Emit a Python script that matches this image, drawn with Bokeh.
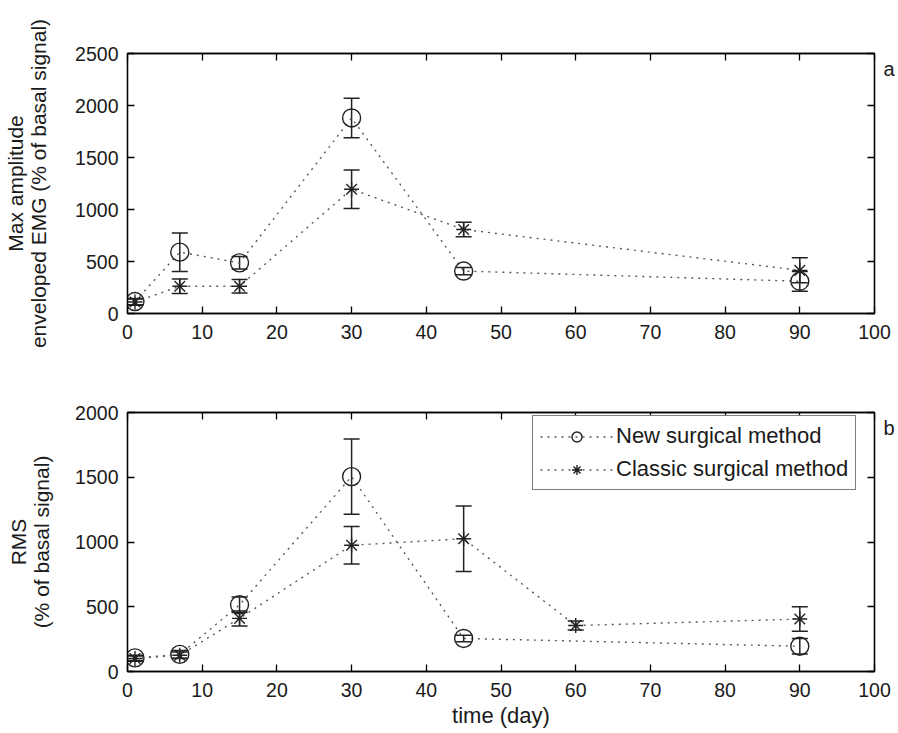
from bokeh.plotting import figure
from bokeh.models import (ColumnDataSource, Whisker, TeeHead, LinearAxis,
                          Legend, LegendItem, FixedTicker, Range1d)
from bokeh.layouts import column
from bokeh.embed import file_html
from bokeh.resources import INLINE

# ---------------- data ----------------
days_a = [1, 7, 15, 30, 45, 90]
new_a = [115, 590, 487, 1880, 408, 310]
new_a_err = [30, 185, 60, 190, 35, 95]
classic_a = [110, 262, 262, 1195, 808, 415]
classic_a_err = [30, 70, 65, 185, 70, 120]

days_b_new = [1, 7, 15, 30, 45, 90]
new_b = [105, 132, 515, 1505, 255, 195]
new_b_err = [20, 30, 60, 290, 25, 60]
days_b_classic = [1, 7, 15, 30, 45, 60, 90]
classic_b = [100, 125, 410, 975, 1025, 355, 405]
classic_b_err = [20, 25, 58, 145, 253, 35, 95]

x_ticks = [0, 10, 20, 30, 40, 50, 60, 70, 80, 90, 100]
y_ticks_a = [0, 500, 1000, 1500, 2000, 2500]
y_ticks_b = [0, 500, 1000, 1500, 2000]

label_new = "New surgical method"
label_classic = "Classic surgical method"
panel_tags = ["a", "b"]

FONT = "Liberation Sans"
TXT = "#1a1a1a"
LINE = "#5a5a5a"
MK = "#222222"
TICK_FS = "19.5px"
LABEL_FS = "21px"
LEGEND_FS = "22px"


def style_axis(ax, ticker, show_labels=True):
    ax.ticker = FixedTicker(ticks=ticker)
    ax.major_tick_in = 7
    ax.major_tick_out = 0
    ax.minor_tick_line_color = None
    ax.axis_line_color = "black"
    ax.axis_line_width = 1.3
    ax.major_tick_line_color = "black"
    ax.major_tick_line_width = 1.3
    ax.major_label_text_font = FONT
    if show_labels:
        ax.major_label_text_font_size = TICK_FS
        ax.major_label_text_color = TXT
    else:
        ax.major_label_text_font_size = "1px"
        ax.major_label_text_color = None
        ax.major_label_standoff = 0


def make_fig(height, y_max, y_ticks, top, bottom, tag, tag_y):
    p = figure(width=897, height=height, x_range=Range1d(0, 100),
               y_range=Range1d(0, y_max), output_backend="svg",
               toolbar_location=None, min_border_left=127,
               min_border_right=21, min_border_top=top,
               min_border_bottom=bottom)
    p.grid.visible = False
    p.outline_line_color = "black"
    p.outline_line_width = 1.3
    xb = p.xaxis[0]
    yl = p.yaxis[0]
    style_axis(xb, x_ticks)
    style_axis(yl, y_ticks)
    xb.major_label_standoff = 11
    yl.major_label_standoff = 9
    for ax in (xb, yl):
        ax.axis_label_text_font = FONT
        ax.axis_label_text_font_size = LABEL_FS
        ax.axis_label_text_font_style = "normal"
        ax.axis_label_text_color = TXT
        ax.axis_label_text_line_height = 1.0
    ra = LinearAxis()
    style_axis(ra, y_ticks, show_labels=False)
    p.add_layout(ra, "right")
    # panel tag ("a" / "b") written just outside the right frame edge
    tg = LinearAxis(ticker=FixedTicker(ticks=[tag_y]),
                    major_label_overrides={tag_y: tag})
    tg.axis_line_color = None
    tg.major_tick_line_color = None
    tg.minor_tick_line_color = None
    tg.major_tick_in = 0
    tg.major_tick_out = 0
    tg.major_label_standoff = 9
    tg.major_label_text_font = FONT
    tg.major_label_text_font_size = "20px"
    tg.major_label_text_color = TXT
    p.add_layout(tg, "right")
    ta = LinearAxis()
    style_axis(ta, x_ticks, show_labels=False)
    p.add_layout(ta, "above")
    return p, xb, yl


def add_series(p, xs, ys, errs, marker, size):
    src = ColumnDataSource(dict(x=xs, y=ys,
                                upper=[y + e for y, e in zip(ys, errs)],
                                lower=[y - e for y, e in zip(ys, errs)]))
    ln = p.line("x", "y", source=src, line_color=LINE, line_width=1.4,
                line_dash="2 5")
    w = Whisker(source=src, base="x", upper="upper", lower="lower",
                dimension="height", line_color=MK, line_width=1.5,
                upper_head=TeeHead(size=16, line_color=MK, line_width=1.5),
                lower_head=TeeHead(size=16, line_color=MK, line_width=1.5))
    p.add_layout(w)
    sc = p.scatter("x", "y", source=src, marker=marker, size=size,
                   fill_color=None, line_color=MK, line_width=1.4)
    return ln, sc


# ---------------- figure a ----------------
pa, xa, ya = make_fig(353, 2500, y_ticks_a, 53, 40, panel_tags[0], 2350)
ya.axis_label = "Max amplitude\nenveloped EMG (% of basal signal)"
ya.axis_label_standoff = 22
add_series(pa, days_a, new_a, new_a_err, "circle", 18)
add_series(pa, days_a, classic_a, classic_a_err, "asterisk", 15)

# ---------------- figure b ----------------
pb, xb_, yb = make_fig(380, 2000, y_ticks_b, 59, 62, panel_tags[1], 1880)
yb.axis_label = "RMS\n(% of basal signal)"
yb.axis_label_standoff = 19
xb_.axis_label = "time (day)"
xb_.axis_label_text_font_size = LEGEND_FS
xb_.axis_label_standoff = 3
ln1, sc1 = add_series(pb, days_b_new, new_b, new_b_err, "circle", 18)
ln2, sc2 = add_series(pb, days_b_classic, classic_b, classic_b_err, "asterisk", 15)

legend = Legend(items=[LegendItem(label=label_new, renderers=[ln1, sc1]),
                       LegendItem(label=label_classic, renderers=[ln2, sc2])],
                location=(405, 181))
legend.label_text_font = FONT
legend.label_text_font_size = LEGEND_FS
legend.label_text_color = TXT
legend.glyph_width = 73
legend.glyph_height = 25
legend.label_height = 25
legend.label_standoff = 3
legend.spacing = 7
legend.padding = 7
legend.margin = 0
legend.border_line_color = "black"
legend.border_line_width = 1.3
legend.background_fill_alpha = 1.0
pb.add_layout(legend)

layout = column(pa, pb, spacing=0)
open("out.html", "w").write(file_html(layout, INLINE))
